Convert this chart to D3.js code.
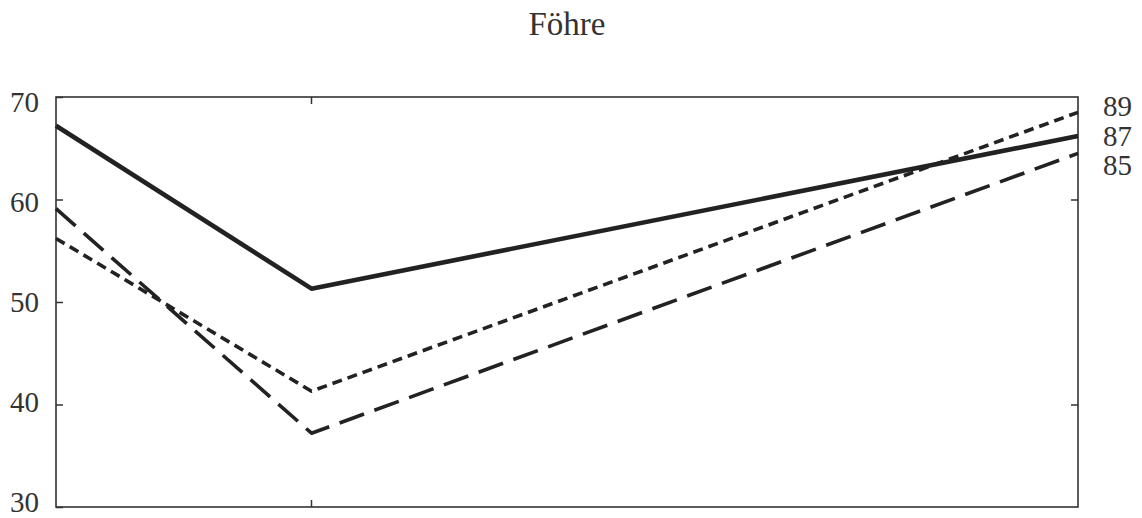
<!DOCTYPE html>
<html>
<head>
<meta charset="utf-8">
<script src="https://cdn.jsdelivr.net/npm/d3@7"></script>
<style>
  body { margin: 0; background: #fff; }
  svg text { font-family: "Liberation Serif", "DejaVu Serif", serif; fill: #333; }
</style>
</head>
<body>
<div id="chart"></div>
<script>
// x positions of the three measurements (middle point sits at a quarter of the span)
const xPoints = [0, 1, 4];
const series89 = [56.2, 41.3, 68.5];
const series87 = [67.2, 51.3, 66.2];
const series85 = [59.1, 37.2, 64.5];
const seriesNames = ["89", "87", "85"];
const yTicks = [30, 40, 50, 60, 70];

const width = 1142, height = 518;
const m = { left: 56, right: 1078, top: 97, bottom: 507 };

const svg = d3.select("#chart").append("svg")
  .attr("width", width).attr("height", height);

const x = d3.scaleLinear().domain([0, 4]).range([m.left, m.right]);
const y = d3.scaleLinear().domain([30, 70]).range([m.bottom, m.top]);
// tick labels sit a little inside the frame at both ends
const yLab = d3.scaleLinear().domain([30, 70]).range([m.bottom - 5, m.top + 5]);

// title
svg.append("text")
  .attr("x", 567).attr("y", 35)
  .attr("text-anchor", "middle")
  .style("font-size", "33px")
  .text("Föhre");

// frame
svg.append("rect")
  .attr("x", m.left).attr("y", m.top)
  .attr("width", m.right - m.left).attr("height", m.bottom - m.top)
  .attr("fill", "none").attr("stroke", "#333").attr("stroke-width", 1.6);

// left axis inward ticks
const leftAxis = d3.axisRight(y).tickValues(yTicks).tickSize(7).tickFormat("");
svg.append("g").attr("transform", `translate(${m.left},0)`).call(leftAxis)
  .call(g => g.select(".domain").remove())
  .call(g => g.selectAll("line").attr("stroke", "#333").attr("stroke-width", 1.5));

svg.selectAll(".ylab").data(yTicks).enter().append("text")
  .attr("class", "ylab")
  .attr("x", 39).attr("y", d => yLab(d) + 10)
  .attr("text-anchor", "end")
  .style("font-size", "29px")
  .text(d => d);

const rightAxis = d3.axisLeft(y).tickValues([40, 60]).tickSize(7).tickFormat("");
svg.append("g").attr("transform", `translate(${m.right},0)`).call(rightAxis)
  .call(g => g.select(".domain").remove())
  .call(g => g.selectAll("line").attr("stroke", "#333").attr("stroke-width", 1.5));

// top / bottom ticks at the middle point
const xTick = x(xPoints[1]);
svg.append("line").attr("x1", xTick).attr("x2", xTick)
  .attr("y1", m.top).attr("y2", m.top + 7).attr("stroke", "#333").attr("stroke-width", 1.5);
svg.append("line").attr("x1", xTick).attr("x2", xTick)
  .attr("y1", m.bottom).attr("y2", m.bottom - 7).attr("stroke", "#333").attr("stroke-width", 1.5);

const line = d3.line().x((d, i) => x(xPoints[i])).y(d => y(d));

const styles = [
  { data: series89, w: 3.6, dash: "10,6" },
  { data: series87, w: 4.6, dash: null },
  { data: series85, w: 3.6, dash: "26,11" }
];

styles.forEach(s => {
  svg.append("path")
    .datum(s.data)
    .attr("d", line)
    .attr("fill", "none")
    .attr("stroke", "#222")
    .attr("stroke-width", s.w)
    .attr("stroke-linejoin", "round")
    .attr("stroke-dasharray", s.dash);
});

// right-side labels
svg.selectAll(".rlab").data(seriesNames).enter().append("text")
  .attr("class", "rlab")
  .attr("x", 1103).attr("y", (d, i) => 116 + i * 29.5)
  .style("font-size", "29px")
  .text(d => d);
</script>
</body>
</html>
